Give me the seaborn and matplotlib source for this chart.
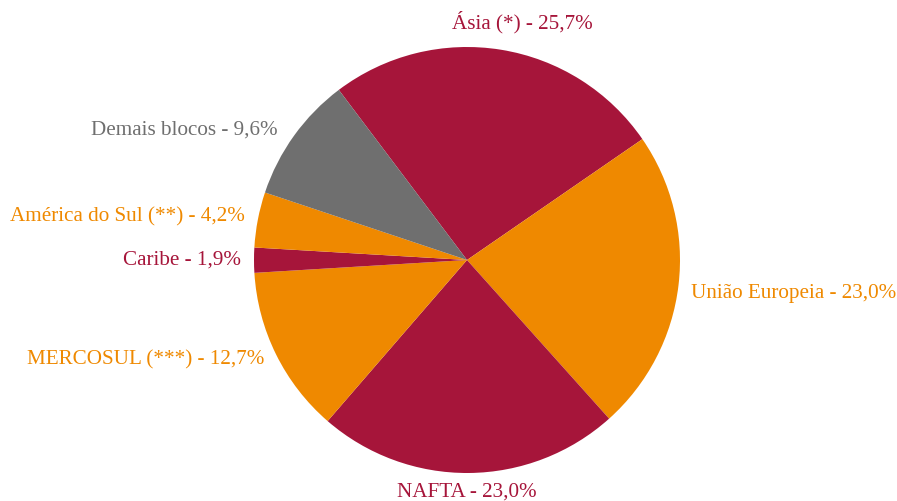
import seaborn as sns
import matplotlib.pyplot as plt

# participacao por bloco economico
blocos = ['Ásia (*)', 'União Europeia', 'NAFTA', 'MERCOSUL (***)',
          'Caribe', 'América do Sul (**)', 'Demais blocos']
valores = [25.7, 23.0, 23.0, 12.7, 1.9, 4.2, 9.6]

vermelho = '#A6153A'
laranja = '#EF8900'
cinza = '#6F6F6F'
cores = [vermelho, laranja, vermelho, laranja, vermelho, laranja, cinza]

sns.set_theme(style='white')
plt.rcParams['font.family'] = ['Liberation Serif', 'DejaVu Serif']

fig = plt.figure(figsize=(8.97, 5.01), dpi=100)
ax = fig.add_axes([(467 - 213) / 897, (501 - 260 - 213) / 501, 426 / 897, 426 / 501])

rotulos = [f'{b} - {v:.1f}%'.replace('.', ',') for b, v in zip(blocos, valores)]
wedges, texts = ax.pie(valores, colors=cores, startangle=127, counterclock=False,
                       labels=rotulos, labeldistance=1.06,
                       wedgeprops=dict(linewidth=0),
                       textprops=dict(fontsize=15.2))

for t, c in zip(texts, cores):
    t.set_color(c)

# ajustes finos de posicao
texts[0].set_ha('center')
texts[0].set_va('center')
texts[0].set_position((0.26, 1.115))
texts[1].set_position((1.05, -0.155))
texts[2].set_ha('center')
texts[2].set_va('center')
texts[2].set_position((0.0, -1.09))
texts[6].set_position((-0.89, 0.61))

ax.set_xlim(-1, 1)
ax.set_ylim(-1, 1)
ax.set_axis_off()

fig.savefig('out.png', dpi=100)
